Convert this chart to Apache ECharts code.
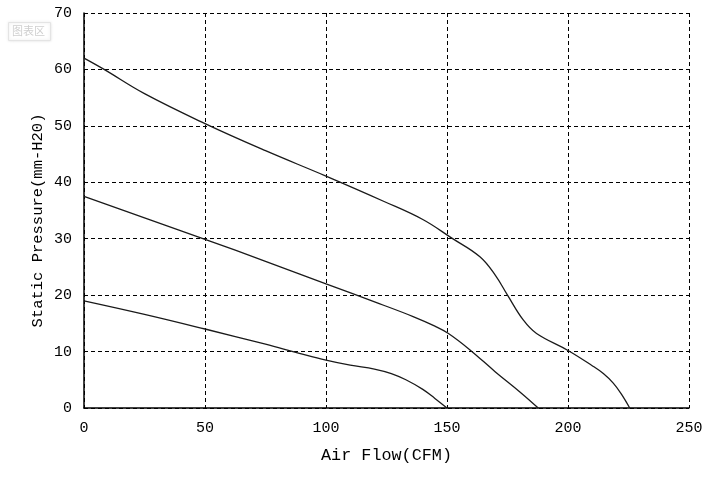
<!DOCTYPE html>
<html><head><meta charset="utf-8">
<script src="https://cdn.jsdelivr.net/npm/echarts@6/dist/echarts.min.js"></script>
<style>html,body{margin:0;padding:0;background:#fff}#c{width:713px;height:480px}</style>
</head><body><div id="c"></div>
<script>
var xTicks = [0, 50, 100, 150, 200, 250];
var yTicks = [0, 10, 20, 30, 40, 50, 60, 70];
var curveHigh = [[0,62],[8.3,60],[25,55.7],[50,50.4],[75,45.6],[100,41.1],[124,36.6],[140,33.4],[152,30.1],[163.6,26.8],[170,23.5],[175,20],[181.5,15.6],[187,13.2],[200,10.2],[210,7.5],[214.6,6.1],[218.7,4.4],[222,2.5],[225.5,0]];
var curveMid = [[0,37.5],[25,33.7],[50,29.9],[75,26.0],[100,22.0],[122,18.5],[136,16.2],[145,14.5],[150.6,13.2],[159.5,10.3],[170,6.4],[180,2.9],[187.7,0]];
var curveLow = [[0,19],[25,16.6],[50,14.0],[75,11.3],[89,9.7],[100,8.5],[110,7.6],[120,6.9],[127,6.1],[133,5.0],[140,3.3],[145,1.7],[150,0]];

var font = "SimSun, 'Liberation Mono', monospace";
var chart = echarts.init(document.getElementById('c'));
function ser(d){return {type:'line',data:d,smooth:0.4,showSymbol:false,lineStyle:{color:'#1a1a1a',width:1.3}};}
chart.setOption({
  animation:false,
  grid:{left:84,top:13,width:605,height:395},
  graphic:[
    {type:'rect',left:8,top:22,shape:{width:42,height:18},style:{fill:'#fff',stroke:'#e4e4e4',lineWidth:1,shadowBlur:3,shadowColor:'rgba(0,0,0,0.12)'}},
    {type:'text',left:12,top:25,style:{text:'图表区',fill:'#cfcfcf',font:"11px 'Noto Sans CJK SC'"}}
  ],
  xAxis:{type:'value',min:xTicks[0],max:xTicks[xTicks.length-1],interval:50,
    name:'Air Flow(CFM)',nameLocation:'middle',nameGap:39,nameMoveOverlap:false,
    nameTextStyle:{fontFamily:font,fontSize:16.8,color:'#000'},
    axisLine:{lineStyle:{color:'#000',width:1.5}},axisTick:{show:false},
    axisLabel:{margin:13,fontFamily:font,fontSize:15,color:'#000'},
    splitLine:{lineStyle:{color:'#000',type:[4,3],width:1}}},
  yAxis:{type:'value',min:yTicks[0],max:yTicks[yTicks.length-1],interval:10,
    name:'Static Pressure(mm-H20)',nameLocation:'middle',nameGap:38,nameMoveOverlap:false,
    nameTextStyle:{fontFamily:font,fontSize:15.5,color:'#000',padding:[0,20,0,0]},
    axisLine:{show:true,lineStyle:{color:'#000',width:1.5}},axisTick:{show:false},
    axisLabel:{margin:12,fontFamily:font,fontSize:15,color:'#000'},
    splitLine:{lineStyle:{color:'#000',type:[4,3],width:1}}},
  series:[ser(curveHigh),ser(curveMid),ser(curveLow)]
});
</script></body></html>
